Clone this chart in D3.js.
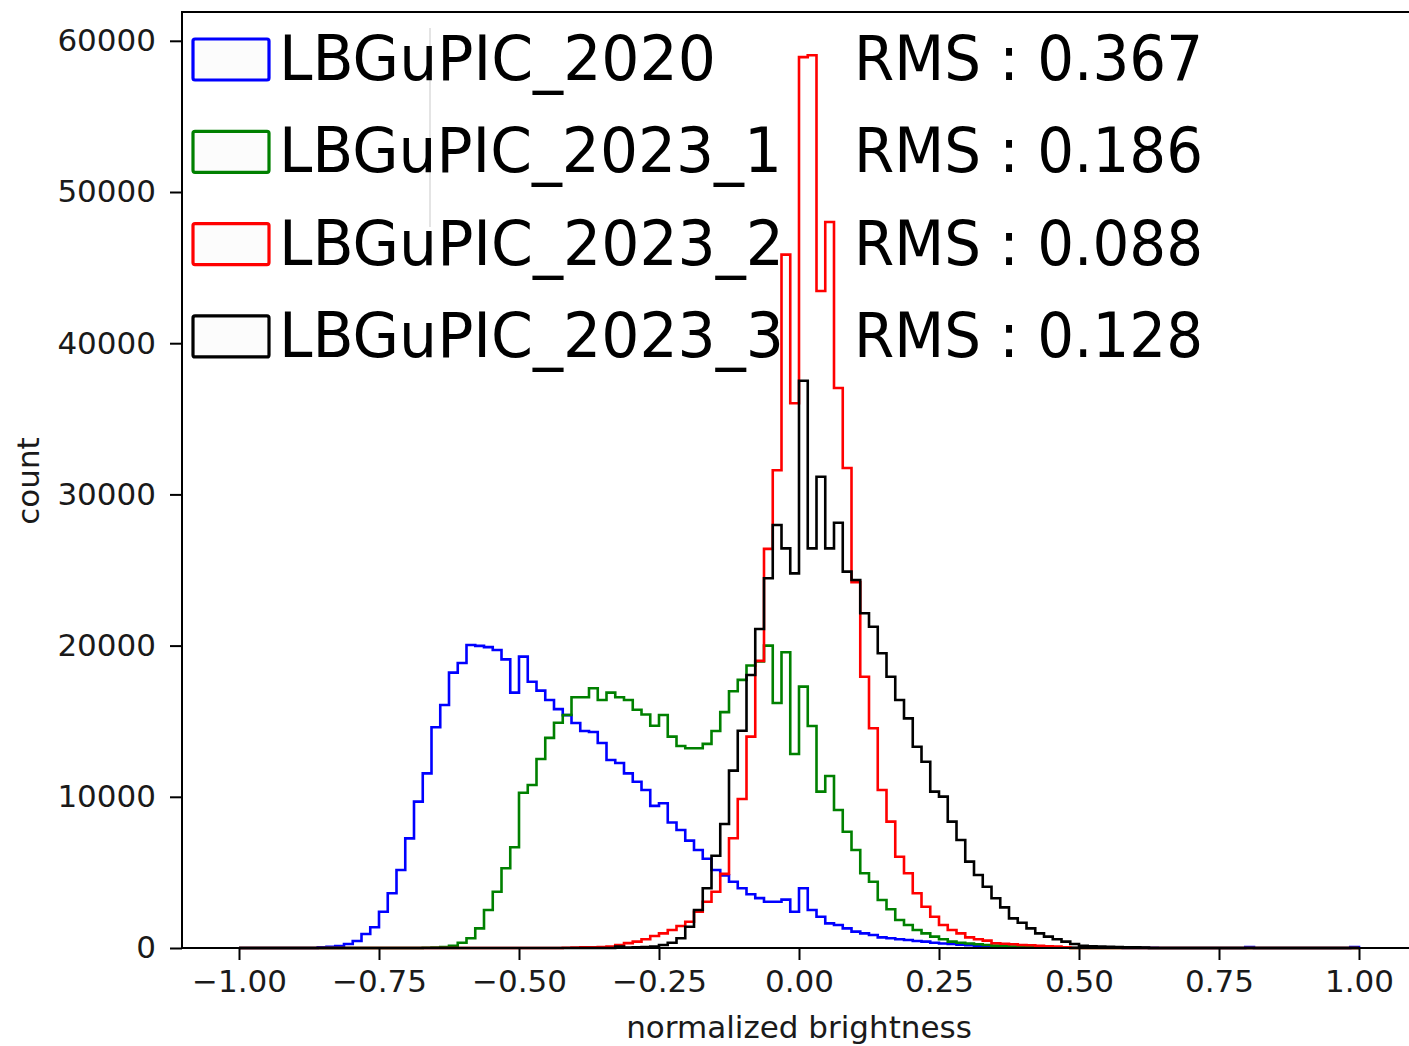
<!DOCTYPE html>
<html>
<head>
<meta charset="utf-8">
<script src="https://cdn.jsdelivr.net/npm/d3@7/dist/d3.min.js"></script>
<style>
  html, body { margin: 0; padding: 0; background: #ffffff; }
  svg { display: block; }
</style>
</head>
<body>
<svg id="chart" width="1409" height="1046"></svg>
<script>
// ---------- data ----------
const binStart = -1;
const binWidth = 1 / 64;   // 128 bins over [-1, 1]

const seriesNames = ["LBGuPIC_2020", "LBGuPIC_2023_1", "LBGuPIC_2023_2", "LBGuPIC_2023_3"];
const rmsLabels = ["RMS : 0.367", "RMS : 0.186", "RMS : 0.088", "RMS : 0.128"];
const seriesColors = ["#0000ff", "#008000", "#ff0000", "#000000"];

const xTickValues = [-1.00, -0.75, -0.50, -0.25, 0.00, 0.25, 0.50, 0.75, 1.00];
const yTickValues = [0, 10000, 20000, 30000, 40000, 50000, 60000];

const counts2020 = [
  0,0,0,0,0,0,0,0,0,
  50,80,130,265,460,925,1370,2400,3620,5160,
  7250,9680,11550,14600,16070,18210,18850,20040,19980,19900,
  19710,19090,16890,19270,17610,17020,16400,15800,15400,14880,
  14350,14290,13560,12430,12240,11550,11000,10450,9400,9570,
  8300,7800,7100,6480,5900,5160,4800,4385,3950,3550,
  3300,3060,3060,3200,2400,3950,2510,2070,1630,1520,
  1300,1080,970,860,705,640,575,530,460,420,
  350,300,260,220,180,150,120,100,80,60,
  50,40,30,30,25,25,20,20,20,15,
  15,15,10,10,10,10,
  0,0,0,0,0,0,0,0,0,0,
  60,
  0,0,0,0,0,0,0,0,0,0,0,
  60
];

const counts2023_1 = [
  0,0,0,0,0,0,0,0,0,0,0,0,0,0,0,0,0,0,0,0,0,
  20,30,60,150,350,640,1300,2510,3725,5270,
  6660,10270,10780,12500,13900,14900,15410,16580,16580,17180,
  16400,16890,16580,16400,15760,15440,14700,15410,13980,13360,
  13210,13210,13500,14350,15600,16980,17730,18680,18950,20000,
  16200,19560,12830,17290,14680,10340,11380,9130,7690,6480,
  4940,4385,3175,2560,1850,1520,1190,970,750,575,
  420,350,300,250,200,160,130,100,80,60,
  40,30,20,15,10,10,
  0,0,0,0,0,0,0,0,0,0,0,0,0,0,0,0,0,0,0,0,0,0,0,0,0,0,0,0,0,0,0
];

const counts2023_2 = [
  0,0,0,0,0,0,0,0,0,0,0,0,0,0,0,0,0,0,0,0,
  0,0,0,0,0,0,0,0,0,0,0,0,0,0,0,0,0,
  20,30,40,50,70,100,200,320,420,575,
  795,970,1190,1455,1740,2400,3060,3725,4900,7255,
  9850,13980,18990,26400,31600,45860,36030,58920,59040,43450,
  48020,37040,31750,24200,17940,14530,10450,8360,6040,4940,
  3620,2730,2070,1520,1190,970,705,575,485,310,
  280,250,200,180,150,120,100,50,
  0,0,0,0,0,0,0,0,0,0,0,0,0,0,0,0,0,0,0,0,0,0,0,0,0,0,0,0,0,0,0,0,0
];

const counts2023_3 = [
  0,0,0,0,0,0,0,0,0,0,0,0,0,0,0,0,0,0,0,0,
  0,0,0,0,0,0,0,0,0,0,0,0,0,0,0,0,0,0,0,0,0,0,0,
  100,30,40,60,100,200,350,640,1410,2510,
  3950,6100,8200,11730,14370,18060,21100,24450,27980,26430,
  24780,37520,26430,31170,26430,28130,24890,24340,22140,21250,
  19490,17940,16400,15190,13310,12320,10340,10010,8360,7140,
  5710,4830,4055,3290,2690,1960,1670,1300,970,750,
  575,420,265,150,120,100,80,60,50,40,30,
  0,0,0,0,0,0,0,0,0,0,0,0,0,0,0,0,0,0,0,0,0,0,0,0
];

const allCounts = [counts2020, counts2023_1, counts2023_2, counts2023_3];

// ---------- layout ----------
const svg = d3.select("#chart");
const xMin = -1.1, xMax = 1.1, yMax = 61905;
const x = d3.scaleLinear().domain([xMin, xMax]).range([183, 1415]);
const y = d3.scaleLinear().domain([0, yMax]).range([948, 12]);

const tickFont = "'DejaVu Sans', sans-serif";
const textColor = "#1a1a1a";

// ---------- histogram step lines ----------
const stepLine = d3.line().x(d => x(d[0])).y(d => y(d[1]));

allCounts.forEach((counts, si) => {
  const pts = [];
  pts.push([binStart, 0]);
  counts.forEach((c, i) => {
    const left = binStart + i * binWidth;
    const right = binStart + (i + 1) * binWidth;
    pts.push([left, c]);
    pts.push([right, c]);
  });
  pts.push([binStart + counts.length * binWidth, 0]);
  svg.append("path")
    .attr("d", stepLine(pts))
    .attr("fill", "none")
    .attr("stroke", seriesColors[si])
    .attr("stroke-width", 2.6)
    .attr("stroke-linejoin", "miter");
});

// ---------- axes ----------
const xAxis = d3.axisBottom(x)
  .tickValues(xTickValues)
  .tickFormat(d3.format(".2f"))
  .tickSize(12)
  .tickPadding(10);
const gx = svg.append("g").attr("transform", "translate(0,948)").call(xAxis);
gx.select(".domain").remove();
gx.selectAll(".tick line").attr("stroke", "#000").attr("stroke-width", 2);
gx.selectAll(".tick text")
  .attr("font-family", tickFont).attr("font-size", 31).attr("fill", textColor);

const yAxis = d3.axisLeft(y)
  .tickValues(yTickValues)
  .tickFormat(d3.format("d"))
  .tickSize(12)
  .tickPadding(14);
const gy = svg.append("g").attr("transform", "translate(182,0)").call(yAxis);
gy.select(".domain").remove();
gy.selectAll(".tick line").attr("stroke", "#000").attr("stroke-width", 2);
gy.selectAll(".tick text")
  .attr("font-family", tickFont).attr("font-size", 31).attr("fill", textColor);

// spines
const spines = svg.append("g").attr("stroke", "#000").attr("stroke-width", 2).attr("fill", "none");
spines.append("line").attr("x1", 182).attr("x2", 182).attr("y1", y(yMax)).attr("y2", y(0));
spines.append("line").attr("x1", 181).attr("x2", 1415).attr("y1", y(0)).attr("y2", y(0));
spines.append("line").attr("x1", 181).attr("x2", 1415).attr("y1", y(yMax)).attr("y2", y(yMax));

// axis titles
svg.append("text")
  .attr("x", 799).attr("y", 1038)
  .attr("text-anchor", "middle")
  .attr("font-family", tickFont).attr("font-size", 31).attr("fill", textColor)
  .text("normalized brightness");

svg.append("text")
  .attr("transform", "translate(39,481) rotate(-90)")
  .attr("text-anchor", "middle")
  .attr("font-family", tickFont).attr("font-size", 31).attr("fill", textColor)
  .text("count");

// ---------- legend ----------
const legendFont = "'DejaVu Sans', sans-serif";
const nameEnds = [716, 782, 784, 784];

svg.append("line")
  .attr("x1", 430).attr("x2", 430).attr("y1", 28).attr("y2", 227)
  .attr("stroke", "#e4e4e4").attr("stroke-width", 2);

seriesNames.forEach((name, i) => {
  const base = 80 + i * 92.3;
  svg.append("rect")
    .attr("x", 193).attr("y", base - 41)
    .attr("width", 76).attr("height", 41)
    .attr("rx", 2).attr("ry", 2)
    .attr("fill", "#fcfcfc")
    .attr("stroke", seriesColors[i])
    .attr("stroke-width", 3.2);
  svg.append("text")
    .attr("x", 279).attr("y", base)
    .attr("font-family", legendFont).attr("font-size", 63).attr("fill", "#000")
    .attr("textLength", nameEnds[i] - 279)
    .attr("lengthAdjust", "spacingAndGlyphs")
    .text(name);
  svg.append("text")
    .attr("x", 854).attr("y", base)
    .attr("font-family", legendFont).attr("font-size", 63).attr("fill", "#000")
    .attr("textLength", 1203 - 854)
    .attr("lengthAdjust", "spacingAndGlyphs")
    .text(rmsLabels[i]);
});
</script>
</body>
</html>
